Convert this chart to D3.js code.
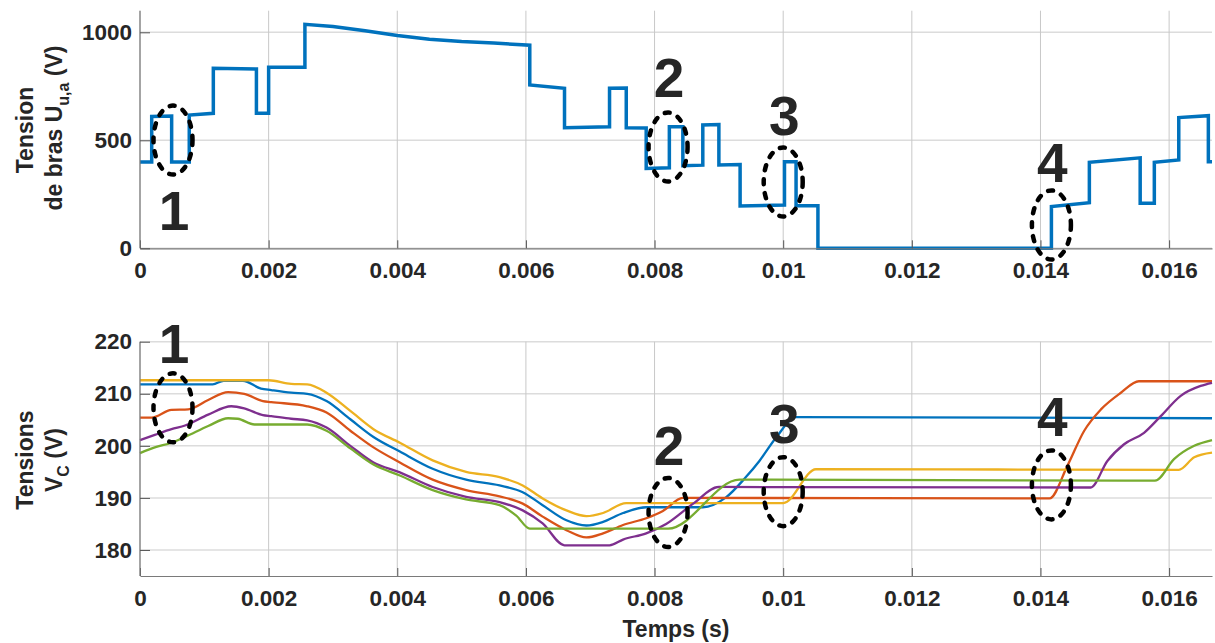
<!DOCTYPE html>
<html>
<head>
<meta charset="utf-8">
<script src="https://cdn.jsdelivr.net/npm/d3@7/dist/d3.min.js"></script>
<style>
  html, body { margin: 0; padding: 0; background: #fff; }
  svg { display: block; }
  text { font-family: "Liberation Sans", Arial, Helvetica, sans-serif; font-weight: bold; fill: #262626; }
</style>
</head>
<body>
<svg id="chart" width="1215" height="643"></svg>
<script>
// ---------------- DATA ----------------
const xTicks = [0, 0.002, 0.004, 0.006, 0.008, 0.010, 0.012, 0.014, 0.016];
const xTickLabels = ["0", "0.002", "0.004", "0.006", "0.008", "0.01", "0.012", "0.014", "0.016"];
const topYTicks = [0, 500, 1000];
const topYTickLabels = ["0", "500", "1000"];
const botYTicks = [180, 190, 200, 210, 220];
const botYTickLabels = ["180", "190", "200", "210", "220"];

// Arm voltage U_u,a (s, V)
const armT = [0, 0.000182, 0.000182, 0.000492, 0.000492, 0.000766, 0.000766, 0.00114, 0.00114, 0.00181, 0.00181, 0.0020, 0.0020, 0.002564, 0.002564,
  0.0030, 0.0035, 0.0040, 0.0045, 0.0050, 0.0055, 0.00606, 0.00606, 0.0066, 0.0066, 0.0073, 0.0073, 0.00756, 0.00756, 0.00787, 0.00787,
  0.00823, 0.00823, 0.00844, 0.00844, 0.00875, 0.00875, 0.0090, 0.0090, 0.00933, 0.00933, 0.01002, 0.01002, 0.0102, 0.0102, 0.01054, 0.01054,
  0.01417, 0.01417, 0.01476, 0.01476, 0.01555, 0.01555, 0.01577, 0.01577, 0.01615, 0.01615, 0.01661, 0.01661, 0.016667];
const armV = [400, 400, 610, 612, 400, 400, 617, 625, 833, 830, 625, 625, 838, 838, 1037,
  1027, 1007, 985, 968, 957, 950, 940, 756, 741, 558, 563, 741, 742, 558, 557, 370,
  373, 563, 563, 382, 385, 571, 573, 386, 388, 196, 200, 401, 401, 197, 197, 0,
  0, 193, 211, 398, 419, 208, 208, 398, 409, 605, 614, 401, 401];

// Capacitor voltages V_C (s, V)
const blueT = [0, 0.00113, 0.0013, 0.0016, 0.00188, 0.00204, 0.00235, 0.0026, 0.0029, 0.00327, 0.00363, 0.00404, 0.00455, 0.00507, 0.00559, 0.00595, 0.00626, 0.00663, 0.00694, 0.0072, 0.00751, 0.00787, 0.00875, 0.00911, 0.00942, 0.00963, 0.00989, 0.0102, 0.016667];
const blueV = [211.8, 211.8, 212.5, 212.5, 211.0, 210.7, 210.2, 210.0, 208.6, 205.1, 201.7, 198.9, 195.6, 193.5, 192.4, 191.1, 188.6, 185.7, 184.7, 185.4, 187.1, 188.2, 188.2, 190.1, 194.0, 197.1, 201.6, 205.5, 205.3];

const orangeT = [0, 0.00018, 0.00049, 0.00075, 0.00106, 0.00137, 0.00162, 0.00191, 0.00204, 0.0026, 0.0029, 0.00327, 0.00363, 0.00404, 0.00455, 0.00507, 0.00559, 0.00595, 0.00626, 0.00663, 0.00694, 0.0072, 0.00751, 0.00787, 0.00813, 0.00844, 0.01414, 0.01442, 0.01468, 0.01494, 0.01525, 0.01553, 0.016667];
const orangeV = [205.4, 205.4, 206.9, 207.0, 208.8, 210.3, 210.0, 208.6, 208.4, 207.6, 206.4, 202.9, 199.7, 196.8, 193.5, 191.5, 190.3, 188.9, 186.4, 183.8, 182.4, 183.2, 184.8, 186.1, 187.5, 190.0, 189.9, 196.2, 202.9, 207.0, 210.2, 212.4, 212.4];

const yellowT = [0, 0.0020, 0.00235, 0.0026, 0.0029, 0.00327, 0.00363, 0.00404, 0.00455, 0.00507, 0.00559, 0.00595, 0.00626, 0.00663, 0.00694, 0.0072, 0.00756, 0.0100, 0.01051, 0.01615, 0.01639, 0.016667];
const yellowV = [212.6, 212.6, 211.9, 211.8, 210.2, 206.7, 203.2, 200.6, 197.2, 195.0, 194.0, 192.4, 189.9, 187.6, 186.5, 187.1, 189.0, 189.0, 195.5, 195.4, 197.8, 198.7];

const purpleT = [0, 0.00023, 0.00049, 0.0007, 0.00106, 0.00142, 0.00162, 0.00191, 0.00204, 0.00235, 0.0026, 0.0029, 0.00327, 0.00363, 0.00404, 0.00455, 0.00507, 0.00559, 0.00595, 0.00626, 0.0066, 0.0073, 0.00751, 0.00787, 0.00818, 0.0086, 0.0090, 0.01478, 0.01504, 0.0153, 0.01561, 0.01587, 0.01618, 0.01649, 0.016667];
const purpleV = [201.1, 202.1, 203.2, 203.9, 206.0, 207.6, 207.2, 205.9, 205.7, 205.2, 204.9, 203.5, 200.0, 196.8, 194.9, 192.1, 190.2, 189.2, 187.6, 185.1, 180.9, 180.9, 182.0, 183.2, 185.0, 188.9, 192.1, 192.0, 197.1, 200.3, 202.5, 205.7, 209.6, 211.5, 212.1];

const greenT = [0, 0.00023, 0.00049, 0.0007, 0.00106, 0.00137, 0.00152, 0.00178, 0.0026, 0.0029, 0.00327, 0.00363, 0.00404, 0.00455, 0.00507, 0.00559, 0.00585, 0.00606, 0.00821, 0.00932, 0.01578, 0.01608, 0.01639, 0.016667];
const greenV = [198.6, 199.7, 200.6, 201.7, 203.8, 205.3, 205.2, 204.1, 204.1, 202.9, 199.5, 196.4, 194.3, 191.5, 189.7, 188.6, 186.6, 184.1, 184.1, 193.5, 193.3, 197.5, 200.0, 201.1];

const vcSeries = [
  { name: "blue", color: "#0072BD", t: blueT, v: blueV },
  { name: "orange", color: "#D95319", t: orangeT, v: orangeV },
  { name: "yellow", color: "#EDB120", t: yellowT, v: yellowV },
  { name: "purple", color: "#7E2F8E", t: purpleT, v: purpleV },
  { name: "green", color: "#77AC30", t: greenT, v: greenV }
];

// Annotations: label, ellipse centre (t, V), label baseline (t, V)
const annLabels = ["1", "2", "3", "4"];
const annT = [0.000513, 0.00821, 0.0100, 0.01417];
const annTopV = [501, 469, 307, 108];
const annTopLabelV = [85, 700, 524, 307];
const annBotV = [207.3, 187.2, 191.2, 192.5];
const annBotLabelV = [215.9, 196.4, 200.6, 201.9];

// ---------------- LAYOUT ----------------
const svg = d3.select("#chart");
const x0 = 140, x1 = 1212;
const x = d3.scaleLinear().domain([0, 1 / 60]).range([x0, x1]);
const yTop = d3.scaleLinear().domain([0, 1100]).range([248.3, 10.7]);
const yBot = d3.scaleLinear().domain([175, 220]).range([576, 341.7]);

function drawPanel(y, yTicks, bottomY) {
  const g = svg.append("g");
  g.selectAll(".hg").data(yTicks).enter().append("line")
    .attr("x1", x0).attr("x2", x1)
    .attr("y1", d => y(d)).attr("y2", d => y(d))
    .attr("stroke", "#dcdcdc").attr("stroke-width", 1.5);
  g.selectAll(".vg").data(xTicks).enter().append("line")
    .attr("x1", d => x(d)).attr("x2", d => x(d))
    .attr("y1", y.range()[1]).attr("y2", bottomY)
    .attr("stroke", "#c8c8c8").attr("stroke-width", 1);
  return g;
}

function drawAxes(y, yTicks, yLabels, bottomY) {
  const xa = svg.append("g").attr("transform", `translate(0,${bottomY})`)
    .call(d3.axisBottom(x).tickValues(xTicks).tickFormat((d, i) => xTickLabels[i])
      .tickSizeInner(-8).tickSizeOuter(0).tickPadding(14));
  const ya = svg.append("g").attr("transform", `translate(${x0},0)`)
    .call(d3.axisLeft(y).tickValues(yTicks).tickFormat((d, i) => yLabels[i])
      .tickSizeInner(-10).tickSizeOuter(0).tickPadding(8));
  [xa, ya].forEach(a => {
    a.select(".domain").attr("stroke", "#7a7a7a").attr("stroke-width", 1.2);
    a.selectAll(".tick line").attr("stroke", "#555").attr("stroke-width", 1);
    a.selectAll(".tick text").style("font-size", "22.5px").style("font-family", "'Liberation Sans', Arial, sans-serif")
      .style("font-weight", "bold").attr("fill", "#262626");
  });
  ya.select(".domain").attr("d", `M0,${y.range()[1]}V${y.range()[0]}`);
}

// -------- top panel --------
drawPanel(yTop, topYTicks, 248.3);
const armData = armT.map((t, i) => [t, armV[i]]);
svg.append("path").datum(armData)
  .attr("fill", "none").attr("stroke", "#0072BD").attr("stroke-width", 3.5)
  .attr("stroke-linejoin", "miter")
  .attr("d", d3.line().x(d => x(d[0])).y(d => yTop(d[1])));
drawAxes(yTop, topYTicks, topYTickLabels, 248.3);

// -------- bottom panel --------
drawPanel(yBot, botYTicks, 576);
const vcLine = d3.line().x(d => x(d[0])).y(d => yBot(d[1])).curve(d3.curveMonotoneX);
vcSeries.forEach(s => {
  svg.append("path").datum(s.t.map((t, i) => [t, s.v[i]]))
    .attr("fill", "none").attr("stroke", s.color).attr("stroke-width", 2.3)
    .attr("d", vcLine);
});
drawAxes(yBot, botYTicks, botYTickLabels, 576);

// -------- annotations --------
function annotate(y, ellV, labV) {
  annLabels.forEach((lab, i) => {
    svg.append("ellipse")
      .attr("cx", x(annT[i])).attr("cy", y(ellV[i]))
      .attr("rx", 19.5).attr("ry", 34.5)
      .attr("fill", "none").attr("stroke", "#000").attr("stroke-width", 4.5)
      .attr("stroke-dasharray", "5,9").attr("stroke-linecap", "round");
    svg.append("text")
      .attr("x", x(annT[i]) + 1).attr("y", y(labV[i]))
      .attr("text-anchor", "middle").style("font-size", "55px")
      .text(lab);
  });
}
annotate(yTop, annTopV, annTopLabelV);
annotate(yBot, annBotV, annBotLabelV);

// -------- axis titles --------
svg.append("text").attr("transform", "translate(33,130) rotate(-90)")
  .attr("text-anchor", "middle").style("font-size", "23px").text("Tension");
const t2 = svg.append("text").attr("transform", "translate(62,128) rotate(-90)")
  .attr("text-anchor", "middle").style("font-size", "23px");
t2.append("tspan").text("de bras U");
t2.append("tspan").attr("dy", 7).style("font-size", "16px").text("u,a");
t2.append("tspan").attr("dy", -7).text(" (V)");

svg.append("text").attr("transform", "translate(33,460) rotate(-90)")
  .attr("text-anchor", "middle").style("font-size", "23px").text("Tensions");
const t4 = svg.append("text").attr("transform", "translate(62,460) rotate(-90)")
  .attr("text-anchor", "middle").style("font-size", "23px");
t4.append("tspan").text("V");
t4.append("tspan").attr("dy", 7).style("font-size", "16px").text("C");
t4.append("tspan").attr("dy", -7).text(" (V)");

svg.append("text").attr("x", 676).attr("y", 637)
  .attr("text-anchor", "middle").style("font-size", "23px").text("Temps (s)");
</script>
</body>
</html>
